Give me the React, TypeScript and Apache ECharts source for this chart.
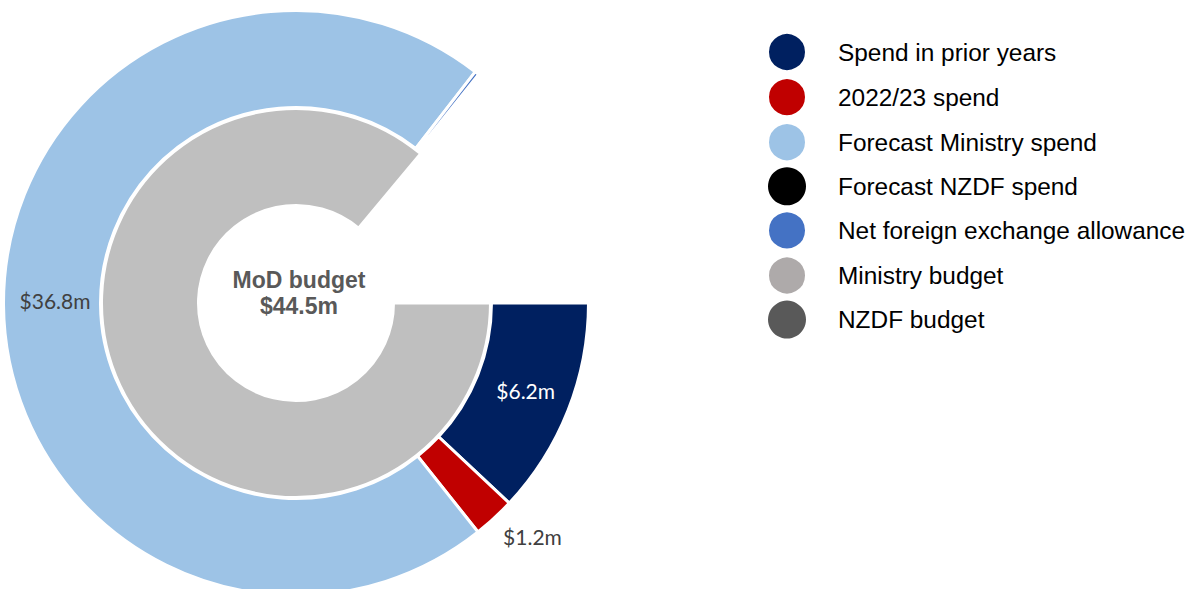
import React, { useEffect, useRef } from "react";
import * as echarts from "echarts";

const outerNames = [
  "Spend in prior years",
  "2022/23 spend",
  "Forecast Ministry spend",
  "Forecast NZDF spend",
  "Net foreign exchange allowance",
];
const outerValues = [6.2, 1.2, 36.8, 0, 0.12];
const outerColors = ["#002060", "#C00000", "#9DC3E6", "#000000", "#4472C4"];
const outerLabels = ["$6.2m", "$1.2m", "$36.8m", "", ""];

const innerNames = ["Ministry budget", "NZDF budget"];
const innerValues = [44.5, 0];
const innerColors = ["#BFBFBF", "#595959"];

// full-circle scale (hidden remainder completes the circle)
const fullCircle = 51.7;

const legendNames = [
  "Spend in prior years",
  "2022/23 spend",
  "Forecast Ministry spend",
  "Forecast NZDF spend",
  "Net foreign exchange allowance",
  "Ministry budget",
  "NZDF budget",
];
const legendColors = ["#002060", "#C00000", "#9DC3E6", "#000000", "#4472C4", "#AEAAAA", "#595959"];

const centerTitle = "MoD budget\n$44.5m";

export default function App() {
  const ref = useRef<HTMLDivElement>(null);
  useEffect(() => {
    document.body.style.margin = "0";
    const chart = echarts.init(ref.current!, null, { renderer: "svg" });
    const sum = (a: number[]) => a.reduce((s, v) => s + v, 0);
    const hidden = (v: number) => ({
      name: "__rest",
      value: v,
      itemStyle: { color: "rgba(0,0,0,0)", borderWidth: 0 },
      label: { show: false },
      labelLine: { show: false },
      emphasis: { disabled: true },
      tooltip: { show: false },
    });
    const outerData: any[] = outerNames.map((n, i) => {
      const item: any = {
        name: n,
        value: outerValues[i],
        itemStyle: { color: outerColors[i] },
        label: { show: outerLabels[i] !== "", formatter: outerLabels[i] },
      };
      if (i === 0) item.label.color = "#FFFFFF";
      if (i === 1) {
        item.label.position = "outside";
        item.labelLine = { show: false, length: 25, length2: 0 };
      }
      if (outerValues[i] === 0) item.itemStyle.borderWidth = 0;
      return item;
    });
    outerData.push(hidden(fullCircle - sum(outerValues)));

    const innerData: any[] = innerNames.map((n, i) => ({
      name: n,
      value: innerValues[i],
      itemStyle: { color: innerColors[i], borderWidth: innerValues[i] === 0 ? 0 : 3 },
      label: { show: false },
    }));
    innerData.push(hidden(fullCircle - sum(innerValues)));

    chart.setOption({
      animation: false,
      legend: {
        orient: "vertical",
        left: 767,
        top: 32,
        padding: 0,
        icon: "circle",
        itemWidth: 92,
        itemHeight: 38,
        itemGap: 5.1,
        selectedMode: false,
        textStyle: { fontFamily: "Liberation Sans", fontSize: 24.4, color: "#000000" },
        data: legendNames.map((n, i) => ({ name: n, itemStyle: { color: legendColors[i] } })),
      },
      graphic: [
        {
          type: "text",
          x: 299,
          y: 293,
          style: {
            text: centerTitle,
            fontFamily: "Liberation Sans",
            fontWeight: "bold",
            fontSize: 23,
            lineHeight: 26,
            fill: "#595959",
            align: "center",
            verticalAlign: "middle",
          },
        },
      ],
      series: [
        {
          type: "pie",
          name: "outer",
          center: [296, 303],
          radius: [195.5, 292.5],
          startAngle: 0,
          clockwise: true,
          silent: true,
          avoidLabelOverlap: false,
          itemStyle: { borderColor: "#FFFFFF", borderWidth: 3 },
          label: {
            show: true,
            position: "inside",
            fontFamily: "Lato",
            fontSize: 21,
            color: "#404040",
          },
          labelLine: { show: false },
          labelLayout: (p: any) =>
            p.dataIndex === 1 ? { dx: -13 } : p.dataIndex === 2 ? { dx: 6, dy: -4 } : p.dataIndex === 0 ? { dy: -3 } : {},
          data: outerData,
        },
        {
          type: "pie",
          name: "inner",
          center: [296, 303],
          radius: [97.5, 194.5],
          startAngle: 0,
          clockwise: true,
          silent: true,
          itemStyle: { borderColor: "#FFFFFF", borderWidth: 3 },
          label: { show: false },
          labelLine: { show: false },
          data: innerData,
        },
      ],
    });
    return () => chart.dispose();
  }, []);
  return <div ref={ref} style={{ width: 1193, height: 589 }} />;
}
